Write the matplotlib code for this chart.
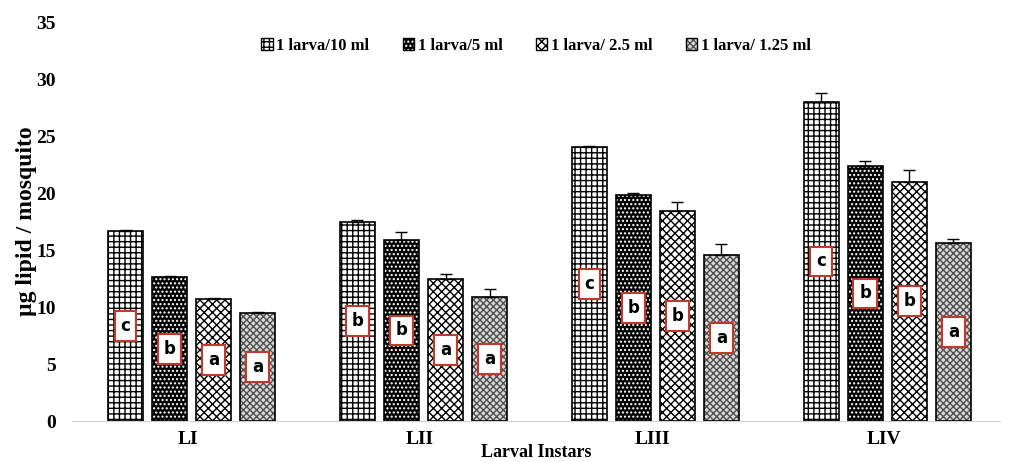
import numpy as np
import matplotlib.pyplot as plt
from matplotlib.patches import Patch

## les donnees
instars = ["LI", "LII", "LIII", "LIV"]
series = ["1 larva/10 ml", "1 larva/5 ml", "1 larva/ 2.5 ml", "1 larva/ 1.25 ml"]
val_10 = [16.7, 17.5, 24.0, 28.0]
val_5 = [12.6, 15.9, 19.8, 22.4]
val_25 = [10.7, 12.5, 18.4, 21.0]
val_125 = [9.5, 10.9, 14.6, 15.6]
err_10 = [0.1, 0.1, 0.1, 0.8]
err_5 = [0.1, 0.7, 0.2, 0.4]
err_25 = [0.1, 0.4, 0.8, 1.0]
err_125 = [0.1, 0.7, 0.9, 0.4]
let_10 = ["c", "b", "c", "c"]
let_5 = ["b", "b", "b", "b"]
let_25 = ["a", "a", "b", "b"]
let_125 = ["a", "a", "a", "a"]

plt.rcParams['font.family'] = ['Liberation Serif', 'DejaVu Serif']
plt.rcParams['font.weight'] = 'bold'
plt.rcParams['hatch.linewidth'] = 1.0

fig = plt.figure(figsize=(10.17, 4.62), dpi=100)
ax = fig.add_axes([0.071, 0.0887, 0.912, 0.8636])

# style de chaque serie : fond, couleur du motif, motif
styles = [
    ("white", "black", "+++"),
    ("black", "white", "...."),
    ("white", "black", "xxxx"),
    ("#d8d8d8", "#505050", "xxxxx"),
]
valeurs = [val_10, val_5, val_25, val_125]
erreurs = [err_10, err_5, err_25, err_125]
lettres = [let_10, let_5, let_25, let_125]

x = np.arange(len(instars)) + 0.015
w = 0.15
pas = 0.19
for i in range(4):
    pos = x + (i - 1.5) * pas
    fc, hc, h = styles[i]
    # le motif (couleur du hachurage = edgecolor)
    ax.bar(pos, valeurs[i], w, color=fc, edgecolor=hc, hatch=h, linewidth=0, zorder=2)
    # le contour
    ax.bar(pos, valeurs[i], w, facecolor="none", edgecolor="black", linewidth=1.2,
           zorder=3)
    # barres d'erreur vers le haut seulement
    ax.errorbar(pos, valeurs[i], yerr=[np.zeros(4), erreurs[i]], fmt="none",
                ecolor="black", elinewidth=1, capsize=4, zorder=4)
    # les lettres dans les cadres rouges
    for j in range(4):
        ax.text(pos[j], valeurs[i][j] / 2, lettres[i][j], ha="center", va="center",
                fontsize=12, fontweight="heavy", family="DejaVu Sans", zorder=5,
                bbox=dict(boxstyle="square,pad=0.35", fc="white", ec="#c0392b", lw=1.5))

# legende avec des petits carres
poignees = [Patch(facecolor=styles[i][0], edgecolor=styles[i][1], hatch=styles[i][2],
                  linewidth=0) for i in range(4)]
cadres = [Patch(facecolor="none", edgecolor="black", linewidth=1) for i in range(4)]
ax.legend([(p, c) for p, c in zip(poignees, cadres)], series, loc="upper center",
          bbox_to_anchor=(0.5, 0.998), ncol=4, frameon=False,
          prop={'weight': 'bold', 'size': 12}, handlelength=0.7, handleheight=0.7,
          handletextpad=0.2, columnspacing=2.0)

ax.set_xlim(-0.5, 3.5)
ax.set_ylim(0, 35)
ax.set_yticks(range(0, 36, 5))
ax.set_xticks(np.arange(4))
ax.set_xticklabels(instars)
ax.tick_params(length=0, labelsize=14, pad=12)
ax.tick_params(axis='x', pad=7)
for t in ax.get_xticklabels() + ax.get_yticklabels():
    t.set_fontweight("bold")

ax.spines['right'].set_color('none')
ax.spines['top'].set_color('none')
ax.spines['left'].set_color('none')
ax.spines['bottom'].set_color('#d0d0d0')

ax.set_ylabel("µg lipid / mosquito", fontsize=17, fontweight="bold", labelpad=-1)
ax.text(0.5, -0.08, "Larval Instars", transform=ax.transAxes, ha="center", va="center",
        fontsize=13, fontweight="bold")

plt.savefig("out.png", dpi=100)
